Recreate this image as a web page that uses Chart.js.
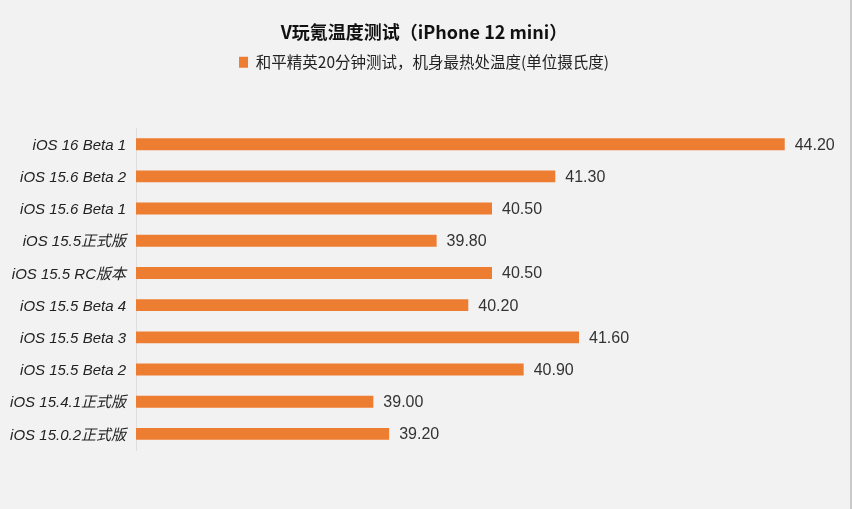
<!DOCTYPE html>
<html>
<head>
<meta charset="utf-8">
<script src="https://cdn.jsdelivr.net/npm/chart.js@4/dist/chart.umd.min.js"></script>
<style>
  html, body { margin: 0; padding: 0; background: #f2f2f2; }
  #wrap { width: 852px; height: 509px; box-sizing: border-box; border-right: 2px solid #c9c9c9; }
</style>
</head>
<body>
<div id="wrap"><canvas id="chart"></canvas></div>
<script>
const versions = [
  'iOS 16 Beta 1', 'iOS 15.6 Beta 2', 'iOS 15.6 Beta 1', 'iOS 15.5正式版', 'iOS 15.5 RC版本',
  'iOS 15.5 Beta 4', 'iOS 15.5 Beta 3', 'iOS 15.5 Beta 2', 'iOS 15.4.1正式版', 'iOS 15.0.2正式版'
];
const temps = [44.2, 41.3, 40.5, 39.8, 40.5, 40.2, 41.6, 40.9, 39.0, 39.2];
const seriesName = '和平精英20分钟测试，机身最热处温度(单位摄氏度)';
const titleText = 'V玩氪温度测试（iPhone 12 mini）';

const FONT = '"Liberation Sans", "Noto Sans CJK SC", sans-serif';
const CJK = '"Noto Sans CJK SC", "Noto Sans", sans-serif';

// value labels at bar ends
const valueLabels = {
  id: 'valueLabels',
  afterDatasetsDraw(chart) {
    const ctx = chart.ctx;
    const meta = chart.getDatasetMeta(0);
    ctx.save();
    ctx.font = '16px ' + FONT;
    ctx.fillStyle = '#333';
    ctx.textAlign = 'left';
    ctx.textBaseline = 'middle';
    meta.data.forEach((bar, i) => {
      ctx.fillText(temps[i].toFixed(2), bar.x + 10, bar.y + 1);
    });
    ctx.restore();
  }
};

// push plot area down below legend
const legendGap = {
  id: 'legendGap',
  beforeInit(chart) {
    const fit = chart.legend.fit;
    chart.legend.fit = function () {
      fit.bind(chart.legend)();
      this.height += 48;
    };
  }
};

new Chart(document.getElementById('chart'), {
  type: 'bar',
  data: {
    labels: versions,
    datasets: [{
      label: seriesName,
      data: temps,
      backgroundColor: '#ED7D31',
      borderWidth: 0,
      barPercentage: 0.37,
      categoryPercentage: 1
    }]
  },
  options: {
    indexAxis: 'y',
    responsive: true,
    maintainAspectRatio: false,
    animation: false,
    layout: { padding: { top: 0, bottom: 59, right: 2, left: 0 } },
    plugins: {
      title: {
        display: true,
        text: titleText,
        color: '#111',
        font: { family: CJK, size: 18, weight: 'bold' },
        padding: { top: 21, bottom: 2 }
      },
      legend: {
        display: true,
        labels: {
          color: '#222',
          font: { family: CJK, size: 15.5 },
          boxWidth: 9,
          boxHeight: 11,
          padding: 10
        }
      },
      tooltip: { enabled: false }
    },
    scales: {
      x: {
        display: false,
        min: 36,
        max: 45
      },
      y: {
        grid: { display: false },
        border: { display: true, color: '#dedede', width: 1 },
        ticks: {
          color: '#222',
          padding: 2,
          labelOffset: 1.5,
          font: { family: FONT, size: 15, style: 'italic' }
        },
        afterFit(scale) { scale.width = 136; }
      }
    }
  },
  plugins: [valueLabels, legendGap]
});
</script>
</body>
</html>
